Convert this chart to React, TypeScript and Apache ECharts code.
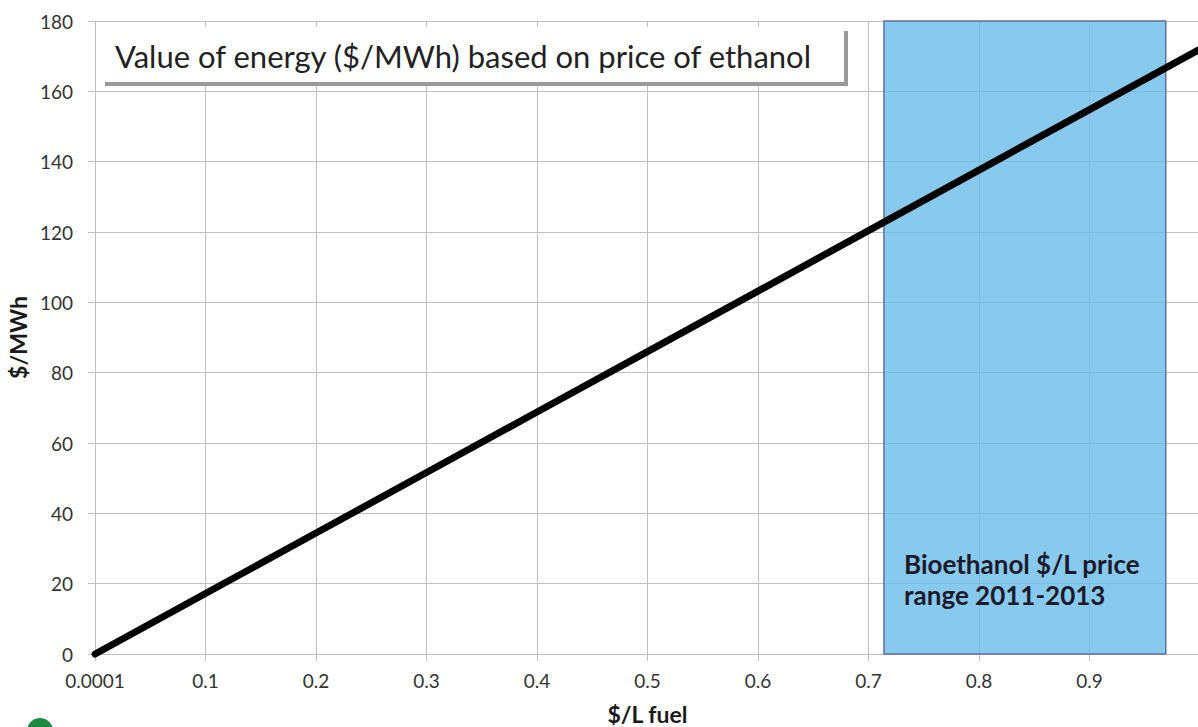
import React, { useEffect, useRef } from "react";
import * as echarts from "echarts";

const xValues = [0.0001, 0.1, 0.2, 0.3, 0.4, 0.5, 0.6, 0.7, 0.8, 0.9, 1.0];
const energyValues = [0, 17.2, 34.4, 51.6, 68.8, 86.0, 103.2, 120.4, 137.6, 154.8, 172.0];
const xTickLabels = ["0.0001", "0.1", "0.2", "0.3", "0.4", "0.5", "0.6", "0.7", "0.8", "0.9", ""];
const priceRange = [0.714, 0.969];
const titleText = "Value of energy ($/MWh) based on price of ethanol";
const rangeText = "Bioethanol $/L price\nrange 2011-2013";

const FONT = "Lato, 'Open Sans', sans-serif";
const GRID_COLOR = "#c0c0c0";

export default function App() {
  const ref = useRef<HTMLDivElement>(null);
  useEffect(() => {
    document.body.style.margin = "0";
    const chart = echarts.init(ref.current!, undefined, { renderer: "svg" });
    chart.setOption({
      animation: false,
      backgroundColor: "#ffffff",
      grid: { left: 95, top: 21, bottom: 73, width: 1105, containLabel: false, outerBoundsMode: "none" },
      xAxis: {
        type: "value",
        min: 0,
        max: 1,
        interval: 0.1,
        name: "$/L fuel",
        nameLocation: "middle",
        nameGap: 48,
        nameTextStyle: { fontFamily: FONT, fontWeight: "bold", fontSize: 23, color: "#1a1a1a" },
        axisLine: { show: true, lineStyle: { color: GRID_COLOR, width: 1 } },
        axisTick: { show: true, length: 7, lineStyle: { color: GRID_COLOR } },
        splitLine: { show: true, lineStyle: { color: GRID_COLOR, width: 1 } },
        axisLabel: {
          fontFamily: FONT,
          fontSize: 19,
          color: "#333",
          margin: 17,
          formatter: (_v: number, i: number) => xTickLabels[i] ?? "",
        },
      },
      yAxis: {
        type: "value",
        min: 0,
        max: 180,
        interval: 20,
        name: "$/MWh",
        nameLocation: "middle",
        nameGap: 62,
        nameTextStyle: { fontFamily: FONT, fontWeight: "bold", fontSize: 23, color: "#1a1a1a" },
        axisLine: { show: true, lineStyle: { color: GRID_COLOR, width: 1 } },
        axisTick: { show: true, length: 7, lineStyle: { color: GRID_COLOR } },
        splitLine: { show: true, lineStyle: { color: GRID_COLOR, width: 1 } },
        axisLabel: { fontFamily: FONT, fontSize: 19, color: "#333", margin: 22 },
      },
      series: [
        {
          type: "line",
          data: [],
          silent: true,
          markArea: {
            silent: true,
            itemStyle: { color: "rgba(106,187,234,0.8)", borderColor: "#5d6fa3", borderWidth: 1.5 },
            label: { show: false },
            data: [[{ xAxis: priceRange[0], yAxis: 0 }, { xAxis: priceRange[1], yAxis: 180 }]],
          },
        },
        {
          type: "line",
          data: xValues.map((x, i) => [x, energyValues[i]]),
          showSymbol: false,
          symbol: "none",
          clip: false,
          lineStyle: { color: "#000", width: 7, cap: "round" },
          z: 3,
        },
      ],
      graphic: [
        { type: "rect", shape: { x: 105, y: 31, width: 743, height: 55 }, style: { fill: "#9a9a9a" }, z: 10 },
        { type: "rect", shape: { x: 101, y: 27, width: 743, height: 55 }, style: { fill: "#ffffff" }, z: 11 },
        {
          type: "text",
          x: 115,
          y: 56,
          z: 12,
          style: { text: titleText, font: `31px ${FONT}`, fill: "#222", verticalAlign: "middle", textAlign: "left" },
        },
        {
          type: "text",
          x: 904,
          y: 548,
          z: 12,
          style: {
            text: rangeText,
            font: `bold 26px ${FONT}`,
            fill: "#1b1b2b",
            lineHeight: 31,
            verticalAlign: "top",
            textAlign: "left",
          },
        },
        { type: "circle", shape: { cx: 40, cy: 731, r: 13 }, style: { fill: "#1b8a3c" }, z: 12 },
      ],
    });
    return () => chart.dispose();
  }, []);
  return <div ref={ref} style={{ position: "absolute", left: 0, top: 0, width: 1198, height: 727 }} />;
}
